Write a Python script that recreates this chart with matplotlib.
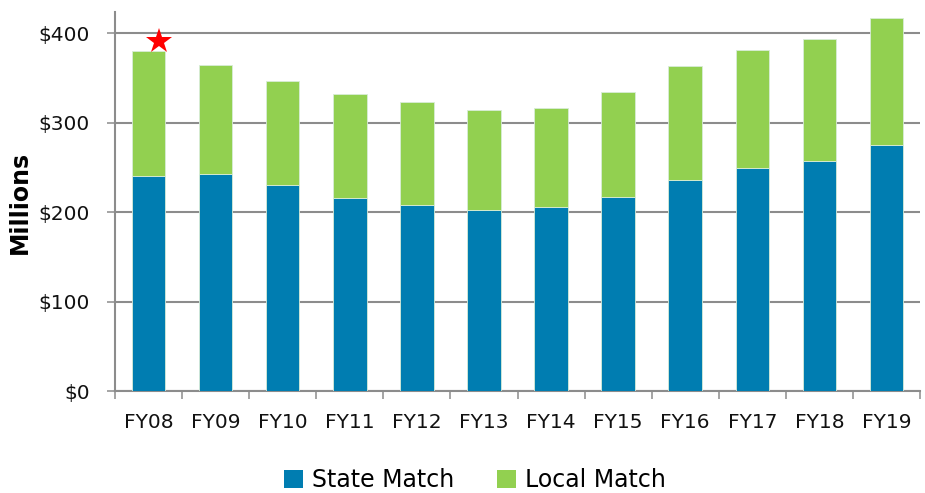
import matplotlib
matplotlib.use("Agg")
import matplotlib.pyplot as plt
from matplotlib.patches import Patch
from matplotlib.ticker import FuncFormatter, FixedLocator
import numpy as np

categories = ["FY08", "FY09", "FY10", "FY11", "FY12", "FY13",
              "FY14", "FY15", "FY16", "FY17", "FY18", "FY19"]
state_match = [240.7, 242.6, 230.7, 216.1, 207.9, 202.7,
               205.7, 216.5, 236.3, 250.0, 257.8, 275.5]
total_match = [380.0, 364.7, 346.8, 331.8, 323.6, 313.9,
               316.5, 334.0, 363.2, 381.9, 393.8, 417.7]
local_match = [t - s for t, s in zip(total_match, state_match)]
y_ticks = [0, 100, 200, 300, 400]
star_category = "FY08"
star_value = 391

BLUE = "#007DB1"
GREEN = "#92D050"
GRAY = "#8c8c8c"

plt.rcParams['font.family'] = ['DejaVu Sans']

fig = plt.figure(figsize=(9.25, 4.93), dpi=100)
ax = fig.add_axes([115/925, 1-391/493, (920-115)/925, (391-12)/493])

x = np.arange(len(categories))
ax.bar(x, state_match, width=0.5, color=BLUE, edgecolor="#d8ecd8", linewidth=0.6, zorder=3)
ax.bar(x, local_match, width=0.5, bottom=state_match, color=GREEN, edgecolor="#d8ecd8", linewidth=0.6, zorder=3)

si = categories.index(star_category)
ax.plot([si + 0.16], [star_value], marker="*", color="red", markersize=19,
        markeredgewidth=0, zorder=5, clip_on=False)

ax.set_xlim(-0.5, len(categories) - 0.5)
ax.set_ylim(0, 424)

ax.set_yticks(y_ticks)
ax.yaxis.set_major_formatter(FuncFormatter(lambda v, p: f"${int(v)}"))
ax.yaxis.grid(True, color=GRAY, linewidth=1.5, zorder=0)
ax.set_axisbelow(True)

ax.set_xticks(x)
ax.set_xticklabels(categories)
ax.xaxis.set_minor_locator(FixedLocator(np.arange(-0.5, len(categories), 1.0)))
ax.tick_params(axis='x', which='major', length=0, pad=16, labelsize=14.5, labelcolor="#111111")
ax.tick_params(axis='x', which='minor', length=5.5, width=1.1, color=GRAY, direction='out')
ax.tick_params(axis='y', which='major', length=6, width=1.1, color=GRAY, pad=12,
               labelsize=14.5, labelcolor="#111111")

for s in ["top", "right"]:
    ax.spines[s].set_visible(False)
for s in ["left", "bottom"]:
    ax.spines[s].set_color(GRAY)
    ax.spines[s].set_linewidth(1.5)

fig.text(20/925, 1-202/493, "Millions", rotation=90, fontsize=17, fontweight="bold",
         ha="center", va="center", color="#000000")

handles = [Patch(facecolor=BLUE, label="State Match"),
           Patch(facecolor=GREEN, label="Local Match")]
fig.legend(handles=handles, loc="center", bbox_to_anchor=(475/925, 1-480/493),
           ncol=2, frameon=False, fontsize=17, handlelength=0.8, handleheight=0.8,
           handletextpad=0.4, columnspacing=1.8)

fig.savefig("out.png", dpi=100)
